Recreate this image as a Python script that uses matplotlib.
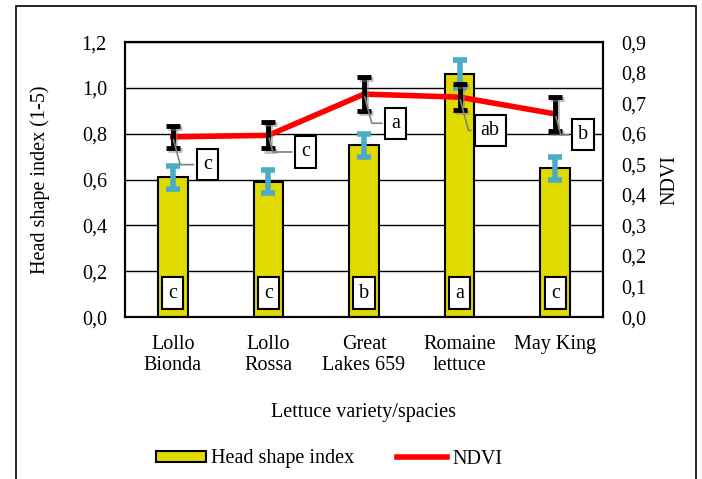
import matplotlib

matplotlib.use("Agg")
import matplotlib.pyplot as plt
import matplotlib.patheffects as pe
from matplotlib.patches import Rectangle, Patch
from matplotlib.lines import Line2D
import numpy as np

plt.rcParams["font.family"] = ["Liberation Serif", "DejaVu Serif"]
plt.rcParams["font.size"] = 14.5

varieties = ["Lollo\nBionda", "Lollo\nRossa", "Great\nLakes 659", "Romaine\nlettuce", "May King"]
head_shape = [0.61, 0.59, 0.75, 1.06, 0.65]
head_err = [0.05, 0.05, 0.05, 0.06, 0.05]
head_letters = ["c", "c", "b", "a", "c"]
ndvi = [0.59, 0.595, 0.73, 0.72, 0.665]
ndvi_err = [0.036, 0.043, 0.056, 0.043, 0.056]
ndvi_letters = ["c", "c", "a", "ab", "b"]
# label offsets (points) relative to the NDVI point
ndvi_offsets = [(25, -20), (27, -12), (23, -21), (22, -24), (20, -15)]

BAR_COLOR = "#E1DA00"
CYAN = "#4BACC6"

fig = plt.figure(figsize=(7.02, 4.79), dpi=100)
ax = fig.add_axes([0.178, 0.338, 0.681, 0.574])
ax2 = ax.twinx()

x = np.arange(len(varieties))
ax.set_axisbelow(True)
ax.bar(x, head_shape, width=0.31, color=BAR_COLOR, edgecolor="black", linewidth=1.5, zorder=2)
ax.errorbar(x, head_shape, yerr=head_err, fmt="none", ecolor=CYAN, elinewidth=4,
            capsize=5, capthick=4, zorder=4)
for xi, letter in zip(x, head_letters):
    ax.text(xi, 0.105, letter, ha="center", va="center", zorder=5,
            bbox=dict(boxstyle="square,pad=0.3", fc="white", ec="black", lw=1.5))

ax.set_xlim(-0.5, len(varieties) - 0.5)
ax.set_ylim(0, 1.2)
ax.set_yticks(np.arange(0, 1.21, 0.2))
ax.set_yticklabels([f"{v:.1f}".replace(".", ",") for v in np.arange(0, 1.21, 0.2)])
ax.set_xticks(x)
ax.set_xticklabels(varieties, linespacing=1.15)
ax.tick_params(axis="both", length=0)
ax.tick_params(axis="y", pad=13)
ax.tick_params(axis="x", pad=13)
ax.yaxis.grid(True, color="black", linewidth=1)
ax.set_ylabel("Head shape index (1-5)", labelpad=23)
ax.set_xlabel("Lettuce variety/spacies", labelpad=20)
for s in ax.spines.values():
    s.set_linewidth(1.5)

ax2.plot(x, ndvi, color="red", linewidth=4, zorder=3, label="NDVI")
shadow = [pe.SimpleLineShadow(offset=(1.5, -1.5), shadow_color="gray", alpha=0.5), pe.Normal()]
eb = ax2.errorbar(x, ndvi, yerr=ndvi_err, fmt="none", ecolor="black", elinewidth=3.5,
                  capsize=5, capthick=3.5, zorder=4)
for artist in eb.lines[1] + eb.lines[2]:
    artist.set_path_effects(shadow)
for xi, yi, letter, off in zip(x, ndvi, ndvi_letters, ndvi_offsets):
    ax2.annotate(letter, xy=(xi, yi), xytext=off, textcoords="offset points",
                 ha="center", va="center", zorder=6,
                 bbox=dict(boxstyle="square,pad=0.3", fc="white", ec="black", lw=1.5),
                 arrowprops=dict(arrowstyle="-", color="gray", lw=1.2,
                                 connectionstyle="angle,angleA=0,angleB=105,rad=0",
                                 shrinkB=2))
ax2.set_ylim(0, 0.9)
ax2.set_yticks(np.arange(0, 0.91, 0.1))
ax2.set_yticklabels([f"{v:.1f}".replace(".", ",") for v in np.arange(0, 0.91, 0.1)])
ax2.tick_params(axis="y", length=0, pad=13)
ax2.set_ylabel("NDVI", labelpad=10)
for s in ax2.spines.values():
    s.set_linewidth(1.5)

handles = [Patch(facecolor=BAR_COLOR, edgecolor="black", linewidth=1.5),
           Line2D([0], [0], color="red", linewidth=4)]
fig.legend(handles, ["Head shape index", "NDVI"], loc="center", ncol=2, frameon=False,
           bbox_to_anchor=(329 / 702, 20 / 479), handlelength=2.5, handleheight=0.5,
           handletextpad=0.25, columnspacing=2.1)

fig.patches.append(Rectangle((16 / 702, -0.05), 680 / 702, 1.05 - 6 / 479, transform=fig.transFigure,
                             fill=False, edgecolor="black", linewidth=1.2))

fig.savefig("out.png", dpi=100)
